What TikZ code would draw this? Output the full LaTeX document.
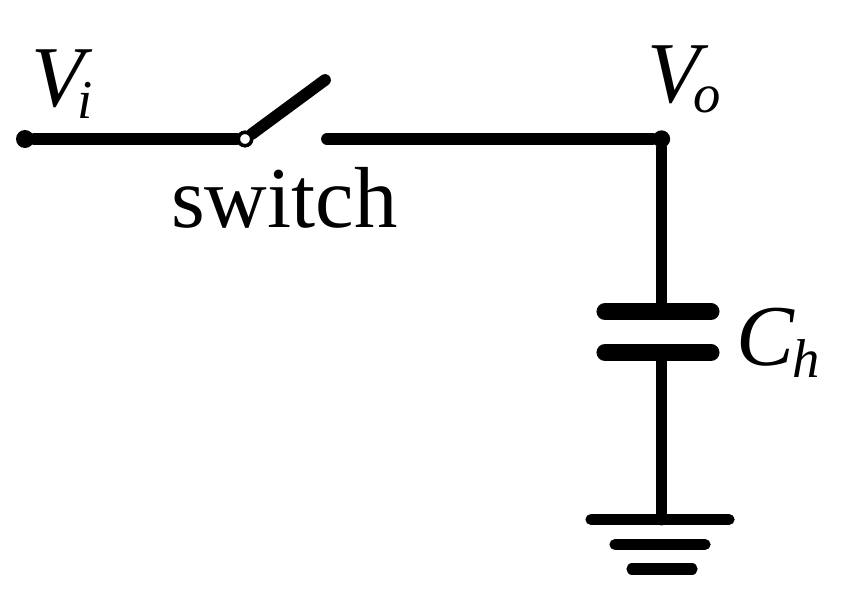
\documentclass[tikz,border=0pt]{standalone}
\usepackage{fontspec}
\setmainfont{Liberation Serif}
\newcommand{\subtext}[3]{\kern#1\raisebox{#2}{\fontsize{41}{41}\selectfont\textit{#3}}}
\tikzset{
  wire/.style={line width=8.8pt,line cap=round},
  plate/.style={line width=12.8pt,line cap=round},
  gndbar/.style={line width=8.4pt,line cap=round},
  joint/.style={circle,fill=black,inner sep=0pt,minimum size=12.5pt},
  pivot/.style={circle,draw=black,fill=white,line width=2.6pt,inner sep=0pt,minimum size=10pt},
  label/.style={anchor=base west,inner sep=0pt,font=\fontsize{65}{65}\selectfont},
}
\begin{document}
\begin{tikzpicture}[x=0.75pt,y=0.75pt,yscale=-1,xscale=1]
\useasboundingbox (0,0) rectangle (846,607);

% terminals
\node [joint,minimum size=13.5pt] (vin) at (25,139) {};
\node [pivot] (pivotA) at (245,139) {};
\coordinate (armEnd) at (325,80);
\coordinate (wireStart) at (327,139);
\node [joint,minimum size=13pt] (vout) at (661.5,139) {};

% capacitor plates
\coordinate (plateAL) at (605,311.5);
\coordinate (plateAR) at (711,311.5);
\coordinate (plateBL) at (605,352.5);
\coordinate (plateBR) at (711,352.5);
\coordinate (plateA) at (661.5,311.5);
\coordinate (plateB) at (661.5,352.5);

% ground
\coordinate (gndAL) at (591,519.5);
\coordinate (gndAR) at (729,519.5);
\coordinate (gndBL) at (615,544.5);
\coordinate (gndBR) at (705,544.5);
\coordinate (gndCL) at (632,569);
\coordinate (gndCR) at (692,569);
\coordinate (gndA) at (661.5,519.5);

% wires
\draw [wire] (vin) -- (pivotA);
\draw [wire] (wireStart) -- (vout);
\draw [wire] (vout) -- (plateA);
\draw [wire] (plateB) -- (gndA);
\draw [plate] (plateAL) -- (plateAR);
\draw [plate] (plateBL) -- (plateBR);
\draw [gndbar] (gndAL) -- (gndAR);
\draw [gndbar] (gndBL) -- (gndBR);
\draw [gndbar] (gndCL) -- (gndCR);
\draw [wire] (pivotA) -- (armEnd);
\node [pivot] (pivotB) at (pivotA) {};

% Text Node
\node [label] (viText) at (31,106) {\textit{V}\subtext{-11pt}{-9pt}{i}};
\node [label] (swText) at (171,227) {switch};
\node [label] (voText) at (647,102) {\textit{V}\subtext{-11pt}{-8pt}{o}};
\node [label] (chText) at (736,365) {\textit{C}\subtext{-1.5pt}{-9pt}{h}};
\end{tikzpicture}
\end{document}
